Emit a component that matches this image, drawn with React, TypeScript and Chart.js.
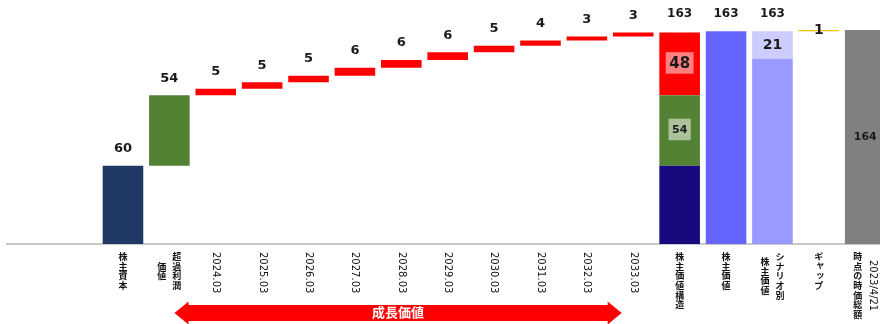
import React, { useEffect, useRef } from 'react';
import { Chart, registerables } from 'chart.js';

Chart.register(...registerables);

// Categories: two blank slots keep the axis running in from the left edge.
const categories: (string | string[])[] = [
  '',
  '',
  '株主資本',
  ['超過利潤', '価値'],
  '2024.03',
  '2025.03',
  '2026.03',
  '2027.03',
  '2028.03',
  '2029.03',
  '2030.03',
  '2031.03',
  '2032.03',
  '2033.03',
  '株主価値構造',
  '株主価値',
  ['シナリオ別', '株主価値'],
  'ギャップ',
  ['2023/4/21', '時点の時価総額'],
];

const equityCapital = 60;
const excessProfitValue = 54;
const growthValues = [5, 5, 5, 6, 6, 6, 5, 4, 3, 3];
const growthTotal = 48;
const shareholderValue = 163;
const scenarioBase = 142;
const scenarioUpside = 21;
const scenarioValue = 163;
const valueGap = 1;
const marketCap = 164;
const growthLabel = '成長価値';

const IDX_EQUITY = 2;
const IDX_EXCESS = 3;
const IDX_GROWTH = 4;
const IDX_STRUCTURE = 14;
const IDX_VALUE = 15;
const IDX_SCENARIO = 16;
const IDX_GAP = 17;
const IDX_MCAP = 18;

type Range = [number, number] | null;
const only = (pairs: [number, [number, number]][]): Range[] =>
  categories.map((_, k) => {
    const hit = pairs.find((p) => p[0] === k);
    return hit ? hit[1] : null;
  });

// Waterfall ranges for the growth years
const growthBase = equityCapital + excessProfitValue;
const growthRanges: [number, [number, number]][] = [];
{
  let acc = growthBase;
  growthValues.forEach((v, k) => {
    growthRanges.push([IDX_GROWTH + k, [acc, acc + v]]);
    acc += v;
  });
}

type ValueLabel = {
  i: number;
  text: string;
  at: number;
  pos: 'above' | 'inside';
  size: number;
  box?: string;
};

const valueLabels: ValueLabel[] = [
  { i: IDX_EQUITY, text: String(equityCapital), at: equityCapital, pos: 'above', size: 13 },
  { i: IDX_EXCESS, text: String(excessProfitValue), at: growthBase, pos: 'above', size: 13 },
  ...growthRanges.map(([i, r], k) => ({
    i,
    text: String(growthValues[k]),
    at: r[1],
    pos: 'above' as const,
    size: 13,
  })),
  { i: IDX_STRUCTURE, text: String(shareholderValue), at: shareholderValue, pos: 'above', size: 12 },
  {
    i: IDX_STRUCTURE,
    text: String(growthTotal),
    at: growthBase + growthTotal / 2,
    pos: 'inside',
    size: 15,
    box: 'rgba(255,255,255,0.5)',
  },
  {
    i: IDX_STRUCTURE,
    text: String(excessProfitValue),
    at: equityCapital + excessProfitValue / 2,
    pos: 'inside',
    size: 11,
    box: 'rgba(255,255,255,0.5)',
  },
  { i: IDX_VALUE, text: String(shareholderValue), at: shareholderValue, pos: 'above', size: 12 },
  { i: IDX_SCENARIO, text: String(scenarioValue), at: scenarioValue, pos: 'above', size: 12 },
  {
    i: IDX_SCENARIO,
    text: String(scenarioUpside),
    at: scenarioBase + scenarioUpside / 2,
    pos: 'inside',
    size: 14,
  },
  { i: IDX_GAP, text: String(valueGap), at: shareholderValue + valueGap / 2, pos: 'inside', size: 14 },
  { i: IDX_MCAP, text: String(marketCap), at: marketCap / 2, pos: 'inside', size: 11 },
];

const valueLabelPlugin = {
  id: 'valueLabels',
  afterDatasetsDraw(chart: any) {
    const { ctx } = chart;
    const x = chart.scales.x;
    const y = chart.scales.y;
    ctx.save();
    ctx.textAlign = 'center';
    ctx.textBaseline = 'middle';
    for (const l of valueLabels) {
      const px = x.getPixelForValue(l.i);
      const py = l.pos === 'above' ? y.getPixelForValue(l.at) - 17 : y.getPixelForValue(l.at);
      ctx.font = `bold ${l.size}px 'DejaVu Sans', Verdana, sans-serif`;
      if (l.box) {
        const w = ctx.measureText(l.text).width + 7;
        const h = 21.5;
        ctx.fillStyle = l.box;
        ctx.fillRect(px - w / 2, py - h / 2 - 1, w, h);
      }
      ctx.fillStyle = '#1a1a1a';
      ctx.fillText(l.text, px, py);
    }
    ctx.restore();
  },
};

// Category labels written top-to-bottom: CJK upright, Latin runs turned sideways.
const SMALL_KANA = 'ャュョッァィゥェォ';
const CJK_FONT = "bold 9px 'Noto Sans CJK JP', sans-serif";
const LATIN_FONT = "10px 'DejaVu Sans', Verdana, sans-serif";
const CJK_ADVANCE = 9.6;
const COLUMN_GAP = 15;

type Run = { t: string; latin: boolean };
const splitRuns = (s: string): Run[] => {
  const runs: Run[] = [];
  let buf = '';
  for (const ch of s) {
    if (ch.charCodeAt(0) < 128) buf += ch;
    else {
      if (buf) {
        runs.push({ t: buf, latin: true });
        buf = '';
      }
      runs.push({ t: ch, latin: false });
    }
  }
  if (buf) runs.push({ t: buf, latin: true });
  return runs;
};

const verticalLabelPlugin = {
  id: 'verticalLabels',
  afterDraw(chart: any) {
    const { ctx, chartArea } = chart;
    const x = chart.scales.x;
    const top0 = chartArea.bottom + 8;
    ctx.save();
    ctx.fillStyle = '#111';
    const runHeight = (r: Run) => {
      if (!r.latin) return CJK_ADVANCE;
      ctx.font = LATIN_FONT;
      return ctx.measureText(r.t).width;
    };
    categories.forEach((lab, i) => {
      const cols = Array.isArray(lab) ? lab : [lab];
      if (!cols[0]) return;
      const cx = x.getPixelForValue(i);
      const runsPer = cols.map(splitRuns);
      const heights = runsPer.map((rs) => rs.reduce((s, r) => s + runHeight(r), 0));
      const maxH = Math.max(...heights);
      runsPer.forEach((runs, c) => {
        const colX = cx + ((cols.length - 1) * COLUMN_GAP) / 2 - c * COLUMN_GAP;
        let yy = top0 + (maxH - heights[c]) / 2;
        for (const r of runs) {
          const h = runHeight(r);
          if (r.latin) {
            ctx.save();
            ctx.font = LATIN_FONT;
            ctx.translate(colX, yy);
            ctx.rotate(Math.PI / 2);
            ctx.textAlign = 'left';
            ctx.textBaseline = 'middle';
            ctx.fillText(r.t, 0, 0);
            ctx.restore();
          } else {
            ctx.font = CJK_FONT;
            ctx.textAlign = 'center';
            ctx.textBaseline = 'middle';
            const small = SMALL_KANA.includes(r.t);
            ctx.fillText(r.t, colX + (small ? 1.5 : 0), yy + h / 2 - (small ? 1.5 : 0));
          }
          yy += h;
        }
      });
    });
    ctx.restore();
  },
};

// Double-headed arrow spanning the growth years
const growthArrowPlugin = {
  id: 'growthArrow',
  afterDraw(chart: any) {
    const { ctx } = chart;
    const x = chart.scales.x;
    const w = x.getPixelForValue(1) - x.getPixelForValue(0);
    const left = x.getPixelForValue(IDX_EXCESS) + 0.11 * w;
    const right = x.getPixelForValue(IDX_GROWTH + growthValues.length - 1) - 0.25 * w;
    const cy = 313;
    const shaft = 8;
    const head = 11.5;
    const headLen = 14;
    ctx.save();
    ctx.fillStyle = '#FF0000';
    ctx.beginPath();
    ctx.moveTo(left, cy);
    ctx.lineTo(left + headLen, cy - head);
    ctx.lineTo(left + headLen, cy - shaft);
    ctx.lineTo(right - headLen, cy - shaft);
    ctx.lineTo(right - headLen, cy - head);
    ctx.lineTo(right, cy);
    ctx.lineTo(right - headLen, cy + head);
    ctx.lineTo(right - headLen, cy + shaft);
    ctx.lineTo(left + headLen, cy + shaft);
    ctx.lineTo(left + headLen, cy + head);
    ctx.closePath();
    ctx.fill();
    ctx.fillStyle = '#ffffff';
    ctx.font = "bold 13px 'Noto Sans CJK JP', sans-serif";
    ctx.textAlign = 'center';
    ctx.textBaseline = 'middle';
    ctx.fillText(growthLabel, (left + right) / 2, cy - 0.5);
    ctx.restore();
  },
};

export default function App() {
  const ref = useRef<HTMLCanvasElement | null>(null);

  useEffect(() => {
    if (!ref.current) return;
    const chart = new Chart(ref.current, {
      type: 'bar',
      data: {
        labels: categories as any,
        datasets: [
          { data: only([[IDX_EQUITY, [0, equityCapital]]]) as any, backgroundColor: '#203864' },
          { data: only([[IDX_EXCESS, [equityCapital, growthBase]]]) as any, backgroundColor: '#548235' },
          { data: only(growthRanges) as any, backgroundColor: '#FF0000' },
          { data: only([[IDX_STRUCTURE, [0, equityCapital]]]) as any, backgroundColor: '#170A7E' },
          { data: only([[IDX_STRUCTURE, [equityCapital, growthBase]]]) as any, backgroundColor: '#548235' },
          {
            data: only([[IDX_STRUCTURE, [growthBase, growthBase + growthTotal]]]) as any,
            backgroundColor: '#FF0000',
          },
          { data: only([[IDX_VALUE, [0, shareholderValue]]]) as any, backgroundColor: '#6666FF' },
          { data: only([[IDX_SCENARIO, [0, scenarioBase]]]) as any, backgroundColor: '#9999FF' },
          {
            data: only([[IDX_SCENARIO, [scenarioBase, scenarioBase + scenarioUpside]]]) as any,
            backgroundColor: '#CCCCFF',
          },
          {
            data: only([[IDX_GAP, [shareholderValue, shareholderValue + valueGap]]]) as any,
            backgroundColor: '#FFC000',
          },
          { data: only([[IDX_MCAP, [0, marketCap]]]) as any, backgroundColor: '#808080' },
        ],
      },
      options: {
        responsive: false,
        animation: false,
        devicePixelRatio: 1,
        layout: { padding: { left: 7, right: 1.6, top: 0, bottom: 80 } },
        datasets: {
          bar: {
            grouped: false,
            skipNull: true,
            barPercentage: 0.875,
            categoryPercentage: 1,
            borderWidth: 0,
          },
        } as any,
        plugins: {
          legend: { display: false },
          tooltip: { enabled: false },
        },
        scales: {
          x: {
            grid: { display: false, drawTicks: false },
            ticks: { display: false },
            border: { display: true, color: '#C8C8C8', width: 2 },
          },
          y: {
            display: false,
            min: 0,
            max: 187,
          },
        },
      },
      plugins: [valueLabelPlugin, verticalLabelPlugin, growthArrowPlugin],
    });
    return () => chart.destroy();
  }, []);

  return (
    <div
      style={{
        position: 'absolute',
        left: 0,
        top: 0,
        width: 880,
        height: 324,
        overflow: 'hidden',
        background: '#ffffff',
      }}
    >
      <canvas ref={ref} width={890} height={324} style={{ width: 890, height: 324, display: 'block' }} />
    </div>
  );
}
